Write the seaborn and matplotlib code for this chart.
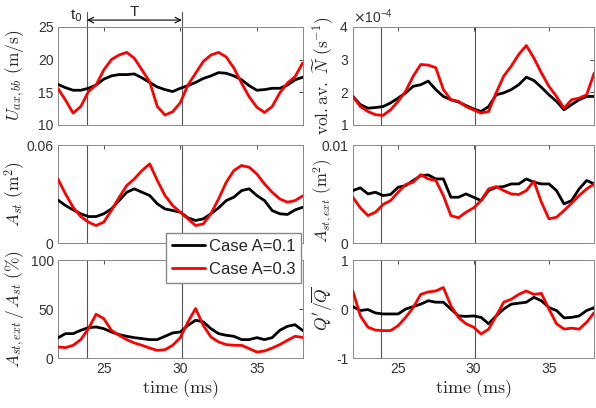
import matplotlib
matplotlib.use("Agg")
import matplotlib.pyplot as plt
from matplotlib.ticker import FormatStrFormatter
import seaborn as sns
import pandas as pd

# tempo (ms), amostrado a cada 0.5 ms
tempo = [22.0, 22.5, 23.0, 23.5, 24.0, 24.5, 25.0, 25.5, 26.0, 26.5, 27.0,
         27.5, 28.0, 28.5, 29.0, 29.5, 30.0, 30.5, 31.0, 31.5, 32.0, 32.5,
         33.0, 33.5, 34.0, 34.5, 35.0, 35.5, 36.0, 36.5, 37.0, 37.5, 38.0]

casos = ["Case A=0.1", "Case A=0.3"]
cores = {"Case A=0.1": "black", "Case A=0.3": "red"}

# U_ax,bb (m/s)
u_01 = [16.2, 15.7, 15.3, 15.3, 15.6, 16.1, 17.0, 17.5, 17.7, 17.7, 17.8,
        17.2, 16.5, 15.8, 15.4, 15.1, 15.6, 16.0, 16.5, 17.1, 17.5, 18.0,
        17.9, 17.5, 16.9, 16.0, 15.3, 15.4, 15.6, 15.6, 16.1, 16.9, 17.3]
u_03 = [15.6, 13.8, 11.8, 12.8, 15.1, 16.1, 18.4, 20.0, 20.7, 21.1, 20.2,
        18.4, 16.6, 12.8, 11.5, 12.0, 13.4, 16.1, 17.9, 19.7, 20.7, 21.1,
        20.4, 18.7, 16.4, 14.3, 12.7, 11.9, 12.8, 14.9, 16.4, 17.4, 19.5]

# vol.av. N (1/s)
n_01 = [1.87e-4, 1.62e-4, 1.51e-4, 1.53e-4, 1.56e-4, 1.67e-4, 1.82e-4, 1.98e-4,
        2.18e-4, 2.23e-4, 2.34e-4, 2.08e-4, 1.87e-4, 1.77e-4, 1.70e-4, 1.59e-4,
        1.49e-4, 1.41e-4, 1.56e-4, 1.92e-4, 1.98e-4, 2.08e-4, 2.23e-4, 2.46e-4,
        2.36e-4, 2.15e-4, 1.92e-4, 1.72e-4, 1.46e-4, 1.62e-4, 1.77e-4, 1.87e-4, 1.87e-4]
n_03 = [1.87e-4, 1.56e-4, 1.41e-4, 1.31e-4, 1.29e-4, 1.46e-4, 1.72e-4, 2.03e-4,
        2.49e-4, 2.85e-4, 2.83e-4, 2.75e-4, 2.08e-4, 1.77e-4, 1.72e-4, 1.56e-4,
        1.46e-4, 1.36e-4, 1.41e-4, 1.98e-4, 2.49e-4, 2.80e-4, 3.16e-4, 3.43e-4,
        3.05e-4, 2.59e-4, 2.18e-4, 1.87e-4, 1.51e-4, 1.77e-4, 1.82e-4, 1.92e-4, 2.59e-4]

# A_st (m2)
a_01 = [0.0265, 0.0231, 0.0204, 0.0180, 0.0163, 0.0163, 0.0180, 0.0210, 0.0261,
        0.0312, 0.0333, 0.0312, 0.0292, 0.0241, 0.0210, 0.0200, 0.0190, 0.0155,
        0.0139, 0.0149, 0.0180, 0.0216, 0.0261, 0.0282, 0.0322, 0.0333, 0.0292,
        0.0261, 0.0200, 0.0180, 0.0176, 0.0204, 0.0220]
a_03 = [0.0394, 0.0302, 0.0220, 0.0163, 0.0129, 0.0108, 0.0129, 0.0200, 0.0280,
        0.0353, 0.0394, 0.0445, 0.0486, 0.0384, 0.0292, 0.0231, 0.0190, 0.0149,
        0.0108, 0.0118, 0.0180, 0.0271, 0.0373, 0.0445, 0.0476, 0.0465, 0.0424,
        0.0363, 0.0312, 0.0271, 0.0251, 0.0261, 0.0290]

# A_st,ext (m2)
ae_01 = [0.00537, 0.00565, 0.00503, 0.00520, 0.00486, 0.00497, 0.00571, 0.00588,
         0.00640, 0.00690, 0.00697, 0.00656, 0.00656, 0.00469, 0.00469, 0.00503,
         0.00469, 0.00435, 0.00537, 0.00571, 0.00578, 0.00605, 0.00605, 0.00656,
         0.00622, 0.00605, 0.00605, 0.00537, 0.00401, 0.00435, 0.00554, 0.00640, 0.00605]
ae_03 = [0.00469, 0.00360, 0.00282, 0.00316, 0.00395, 0.00435, 0.00520, 0.00599,
         0.00622, 0.00700, 0.00656, 0.00640, 0.00486, 0.00282, 0.00259, 0.00316,
         0.00360, 0.00435, 0.00554, 0.00578, 0.00537, 0.00503, 0.00497, 0.00537,
         0.00633, 0.00418, 0.00248, 0.00265, 0.00333, 0.00408, 0.00486, 0.00554, 0.00605]

# A_st,ext / A_st (%)
r_01 = [20.5, 24.9, 24.9, 28.3, 31.0, 31.7, 30.0, 26.6, 23.9, 22.2, 20.8,
        19.8, 18.8, 18.8, 22.2, 25.6, 26.6, 33.4, 38.6, 36.9, 30.0, 24.9,
        23.2, 22.2, 18.8, 18.8, 20.8, 18.8, 20.8, 28.3, 32.4, 34.0, 28.0]
r_03 = [11.3, 10.6, 13.0, 18.8, 30.0, 44.7, 40.3, 28.3, 23.2, 18.8, 15.4,
        13.0, 10.2, 7.8, 8.5, 13.0, 20.8, 36.9, 50.5, 33.4, 21.5, 16.4,
        13.7, 13.0, 13.0, 9.6, 6.1, 7.2, 10.2, 13.7, 18.1, 22.2, 21.0]

# Q'/Qbar
q_01 = [0.05, -0.03, -0.01, -0.08, -0.10, -0.10, -0.10, 0.00, 0.05, 0.10, 0.17,
        0.14, 0.14, 0.00, -0.14, -0.15, -0.14, -0.17, -0.30, -0.14, 0.00, 0.10,
        0.12, 0.14, 0.24, 0.17, 0.03, -0.03, -0.18, -0.17, -0.14, -0.03, 0.03]
q_03 = [0.37, -0.14, -0.37, -0.43, -0.44, -0.44, -0.34, -0.17, 0.03, 0.30, 0.35,
        0.37, 0.44, 0.07, -0.17, -0.30, -0.37, -0.51, -0.41, -0.14, 0.14, 0.20,
        0.30, 0.37, 0.30, 0.32, 0.00, -0.30, -0.41, -0.39, -0.41, -0.27, -0.07]

t0 = 23.9
t1 = 30.1

sns.set_style("white")
plt.rcParams["font.family"] = ["Liberation Sans", "DejaVu Sans"]
plt.rcParams["mathtext.fontset"] = "cm"


def tabela(v1, v2):
    return pd.DataFrame({
        "tempo": tempo * 2,
        "valor": v1 + v2,
        "caso": [casos[0]] * len(tempo) + [casos[1]] * len(tempo),
    })


fig = plt.figure(figsize=(5.96, 4.08), dpi=100)
esq, dir_ = 0.097, 0.592
larg_e, larg_d = 0.411, 0.405
alt = 0.240
bases = [0.694, 0.404, 0.1225]

paineis = [
    (esq, bases[0], larg_e, u_01, u_03, (10, 25), [10, 15, 20, 25], r"$U_{ax,bb}\ \mathrm{(m/s)}$"),
    (dir_, bases[0], larg_d, n_01, n_03, (1e-4, 4e-4), [1e-4, 2e-4, 3e-4, 4e-4],
     r"$\mathrm{vol.av.}\ \widetilde{N}\ (\mathrm{s}^{-1})$"),
    (esq, bases[1], larg_e, a_01, a_03, (0, 0.06), [0, 0.06], r"$A_{st}\ (\mathrm{m}^2)$"),
    (dir_, bases[1], larg_d, ae_01, ae_03, (0, 0.01), [0, 0.01], r"$A_{st,ext}\ (\mathrm{m}^2)$"),
    (esq, bases[2], larg_e, r_01, r_03, (0, 100), [0, 50, 100], r"$A_{st,ext}\,/\,A_{st}\ (\%)$"),
    (dir_, bases[2], larg_d, q_01, q_03, (-1, 1), [-1, 0, 1], r"$Q'/\overline{Q}$"),
]

eixos = []
for i, (x0, y0, w, v1, v2, lim, ticks, rotulo) in enumerate(paineis):
    ax = fig.add_axes([x0, y0, w, alt])
    sns.lineplot(data=tabela(v1, v2), x="tempo", y="valor", hue="caso",
                 palette=cores, linewidth=2.0, legend=False, ax=ax, zorder=3)
    ax.set_xlim(22, 38)
    ax.set_ylim(*lim)
    ax.set_yticks(ticks)
    if i != 1:
        ax.yaxis.set_major_formatter(FormatStrFormatter("%g"))
    ax.set_xticks([25, 30, 35])
    ax.tick_params(direction="in", top=True, right=True, length=3, width=0.6,
                   labelsize=10, colors="#333333", pad=3)
    for s in ax.spines.values():
        s.set_color("#888888")
        s.set_linewidth(0.7)
    ax.set_ylabel(rotulo, fontsize=12.5 if i != 3 else 12)
    ax.yaxis.set_label_coords(-0.125 if i % 2 == 0 else -0.075, 0.5 if i != 3 else 0.43)
    if i >= 4:
        ax.set_xlabel(r"$\mathrm{time\ (ms)}$", fontsize=13, labelpad=1)
    else:
        ax.set_xlabel("")
        ax.set_xticklabels([])
    topo = 1.15 if i == 0 else 1.0
    for tv in (t0, t1):
        ax.axvline(tv, ymin=0, ymax=topo, color="#555555", lw=0.8, clip_on=False, zorder=2)
    eixos.append(ax)

# 'x10^-4' no painel N
eixos[1].ticklabel_format(axis="y", style="sci", scilimits=(0, 0), useMathText=True)
eixos[1].yaxis.get_offset_text().set_fontsize(10)
eixos[1].yaxis.get_offset_text().set_color("#333333")
eixos[1].yaxis.get_offset_text().set_math_fontfamily("dejavusans")

# t0 e periodo T
ax = eixos[0]
ax.annotate("", xy=(t0, 1.07), xytext=(t1, 1.07), xycoords=("data", "axes fraction"),
            arrowprops=dict(arrowstyle="<->", color="black", lw=0.8, shrinkA=0, shrinkB=0))
ax.text(23.2, 1.12, r"t$_0$", transform=ax.get_xaxis_transform(), ha="center", va="center",
        fontsize=11, math_fontfamily="dejavusans")
ax.text(27.0, 1.15, "T", transform=ax.get_xaxis_transform(), ha="center", va="center", fontsize=11)

linhas = [plt.Line2D([], [], color=cores[c], lw=2.0) for c in casos]
fig.legend(linhas, casos, loc="upper left", bbox_to_anchor=(0.279, 0.428),
           fontsize=12, frameon=True, fancybox=False, edgecolor="#888888",
           framealpha=1, handlelength=2.0, handletextpad=0.2, labelspacing=0.45,
           borderpad=0.35, borderaxespad=0)

fig.savefig("out.png", dpi=100)
